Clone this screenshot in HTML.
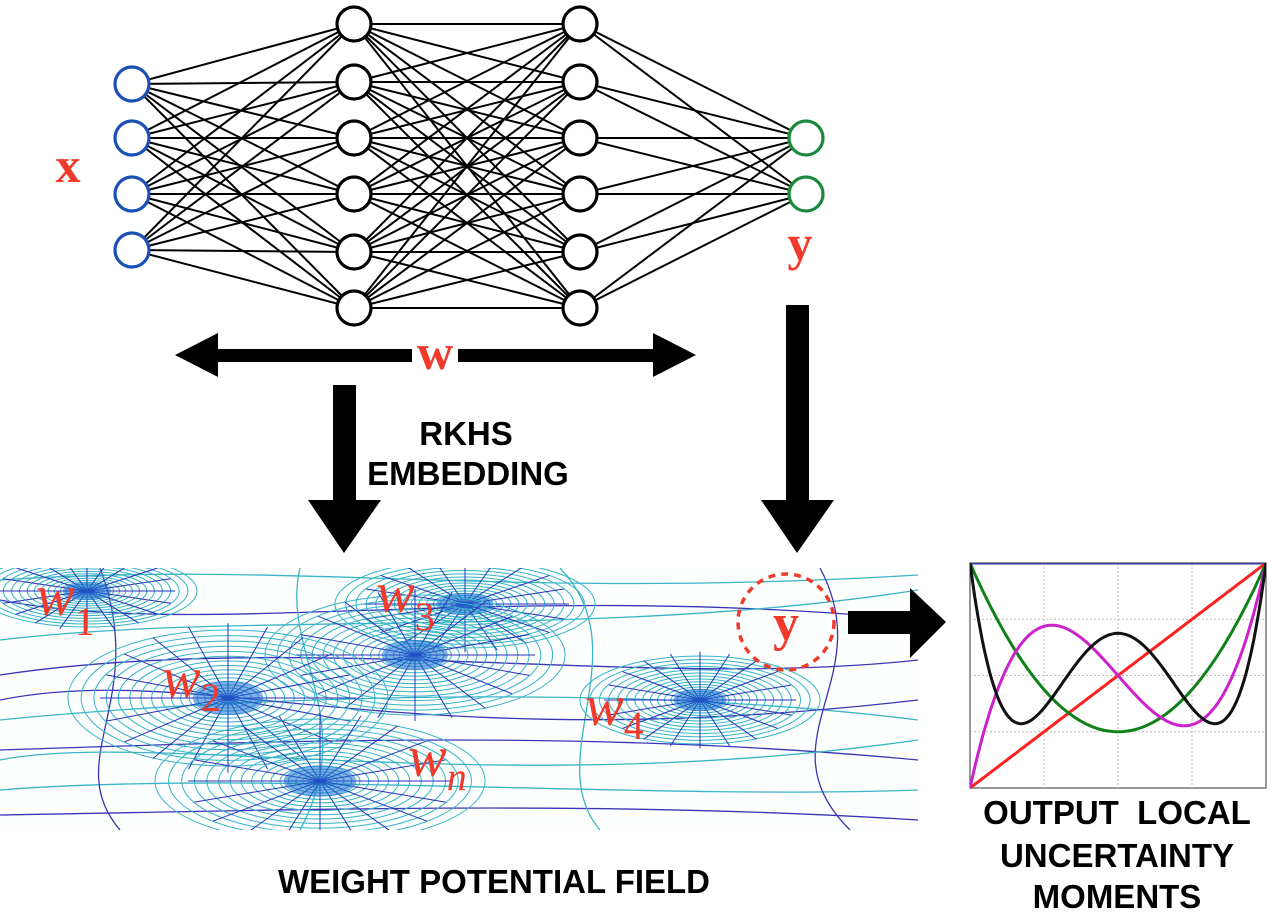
<!DOCTYPE html>
<html><head><meta charset="utf-8"><style>
body{margin:0;background:#fff;}
svg{display:block;}
.lbl{font-family:"Liberation Sans",sans-serif;font-weight:bold;font-size:33px;fill:#000;text-anchor:middle;}
.red{font-family:"Liberation Serif",serif;fill:#f03a2a;}
</style></head><body>
<svg id="root" width="1279" height="916" viewBox="0 0 1279 916">
<defs><clipPath id="fc"><rect x="0" y="568" width="918" height="262"/></clipPath>
<clipPath id="cc"><rect x="970" y="563" width="296" height="225"/></clipPath></defs>
<g id="net"></g>
<text class="red" x="68" y="182" font-size="50" font-weight="bold" text-anchor="middle">x</text>
<text class="red" x="800" y="260" font-size="50" font-weight="bold" text-anchor="middle">y</text>
<g>
<rect x="212" y="349" width="200" height="13" fill="#000"/>
<rect x="458" y="349" width="200" height="13" fill="#000"/>
<polygon points="175,355 218,333 218,377" fill="#000"/>
<polygon points="696,355 653,333 653,377" fill="#000"/>
</g>
<text class="red" x="435" y="369" font-size="50" font-weight="bold" text-anchor="middle">w</text>
<g>
<rect x="333" y="385" width="23" height="118" fill="#000"/>
<polygon points="308,500 381,500 344,553" fill="#000"/>
</g>
<g>
<rect x="786" y="305" width="23" height="198" fill="#000"/>
<polygon points="761,500 834,500 797,553" fill="#000"/>
</g>
<text class="lbl" x="466" y="445">RKHS</text>
<text class="lbl" x="468" y="485">EMBEDDING</text>
<g id="field" clip-path="url(#fc)"></g>
<g font-style="italic">
<text class="red" x="36" y="615" font-size="58">w<tspan font-style="normal" font-size="40" dy="20">1</tspan></text>
<text class="red" x="376" y="612" font-size="58">w<tspan font-style="normal" font-size="40" dy="18">3</tspan></text>
<text class="red" x="162" y="697" font-size="58">w<tspan font-style="normal" font-size="40" dy="14">2</tspan></text>
<text class="red" x="585" y="725" font-size="58">w<tspan font-style="normal" font-size="40" dy="14">4</tspan></text>
<text class="red" x="408" y="776" font-size="58">w<tspan font-size="40" dy="14">n</tspan></text>
</g>
<circle cx="786" cy="622" r="48" fill="none" stroke="#f03a2a" stroke-width="3.5" stroke-dasharray="7,6"/>
<text class="red" x="786" y="640" font-size="52" font-weight="bold" text-anchor="middle">y</text>
<g>
<rect x="848" y="611" width="65" height="23" fill="#000"/>
<polygon points="910,588 946,622 910,658" fill="#000"/>
</g>
<g id="chart"></g>
<text class="lbl" x="1117" y="824" xml:space="preserve">OUTPUT  LOCAL</text>
<text class="lbl" x="1117" y="867">UNCERTAINTY</text>
<text class="lbl" x="1117" y="908">MOMENTS</text>
<text class="lbl" x="494" y="893">WEIGHT POTENTIAL FIELD</text>
</svg>
<script>
// Legendre-like moment curves: polynomial coefficients (ascending powers) for x in [-1,1]
const seriesNames = ["m0","m1","m2","m3","m4"];
const seriesColors = ["#3a3aa8","#ff2020","#108018","#cc22cc","#111111"];
const coefM0 = [1];
const coefM1 = [0,1];
const coefM2 = [-0.5,0,1.5];
const coefM3 = [0,-1.5,0,2.5];
const coefM4 = [0.375,0,-3.75,0,4.375];
const yTicks = [-1,-0.5,0,0.5,1];
const xTicks = [-1,-0.5,0,0.5,1];
const NS="http://www.w3.org/2000/svg";
function mk(t,a,p){const e=document.createElementNS(NS,t);for(const k in a)e.setAttribute(k,a[k]);p.appendChild(e);return e;}
// network
const net=document.getElementById('net');
const layers=[{x:132,ys:[84,138,194,250],c:"#1a4fb5"},{x:354,ys:[24,82,138,194,252,308],c:"#000"},{x:580,ys:[24,82,138,194,252,308],c:"#000"},{x:806,ys:[138,194],c:"#1a8a3a"}];
for(let l=0;l<3;l++)for(const a of layers[l].ys)for(const b of layers[l+1].ys){
 const e=mk('line',{x1:layers[l].x,y1:a,x2:layers[l+1].x,y2:b,stroke:"#000","stroke-width":2},net);
 
 
}
layers.forEach((L,li)=>L.ys.forEach(y=>{
 const c=mk('circle',{cx:L.x,cy:y,r:17,fill:"#fff",stroke:L.c,"stroke-width":3.2},net);
 
 
}));
// field
const field=document.getElementById('field');
mk('rect',{x:0,y:568,width:918,height:262,fill:"#fdfefe"},field);
const centers=[[87,591,110,36],[465,604,130,44],[415,655,150,60],[228,698,160,68],[700,700,120,44],[320,781,165,62]];
const flows=[[0,600,200,640,500,580,918,620],[0,640,250,610,600,640,918,590],[0,675,300,630,650,690,918,660],[0,720,200,700,600,680,918,720],[0,750,300,740,600,730,918,760],[0,790,250,770,650,800,918,790],[0,815,300,810,600,800,918,820],[0,580,300,560,500,600,918,575],[100,568,150,700,60,760,120,830],[560,568,640,650,540,760,600,830],[820,568,880,680,760,740,850,830],[300,568,280,650,360,720,300,830],[0,700,200,660,400,760,918,700],[0,760,150,730,500,800,918,740]];
flows.forEach((f,i)=>{const p=mk('path',{d:`M${f[0]},${f[1]} C${f[2]},${f[3]} ${f[4]},${f[5]} ${f[6]},${f[7]}`,fill:"none",stroke:i%2?"#3bb5c4":"#3a35b5","stroke-width":1.3},field);
 
 });
centers.forEach(([cx,cy,rx,ry])=>{
 for(let k=1;k<=18;k++){const f=Math.pow(k/18,1.5);
  const e=mk('ellipse',{cx,cy,rx:rx*f,ry:ry*f,fill:"none",stroke:"#36b4c8","stroke-width":1},field);
  
  }
 for(let k=0;k<20;k++){const a=k/20*2*Math.PI;
  const l=mk('line',{x1:cx,y1:cy,x2:cx+Math.cos(a)*rx*0.8,y2:cy+Math.sin(a)*ry*1.1,stroke:"#2a30b8","stroke-width":1},field);
  
  }
 const d=mk('ellipse',{cx,cy,rx:rx*0.22,ry:ry*0.25,fill:"#1a70d0",opacity:0.55},field);
 
 
});
// chart
const ch=document.getElementById('chart');
const X0=970,X1=1266,Y0=788,Y1=563;
const sx=v=>X0+(v+1)/2*(X1-X0), sy=v=>Y0-(v+1)/2*(Y0-Y1);
mk('rect',{x:X0,y:Y1,width:X1-X0,height:Y0-Y1,fill:"#fff",stroke:"#777","stroke-width":1.5},ch);
xTicks.slice(1,-1).forEach(t=>{const g=mk('line',{x1:sx(t),x2:sx(t),y1:Y1,y2:Y0,stroke:"#bbb","stroke-dasharray":"2,2"},ch);
 
 });
yTicks.slice(1,-1).forEach(t=>{const g=mk('line',{x1:X0,x2:X1,y1:sy(t),y2:sy(t),stroke:"#bbb","stroke-dasharray":"2,2"},ch);
 
 });
const coefs=[coefM0,coefM1,coefM2,coefM3,coefM4];
const cg=mk('g',{"clip-path":"url(#cc)"},ch);
coefs.forEach((c,i)=>{let d="";
 for(let k=0;k<=120;k++){const x=-1+k/60;let y=0;c.forEach((a,p)=>y+=a*Math.pow(x,p));d+=(k?"L":"M")+sx(x).toFixed(1)+","+sy(y).toFixed(1);}
 const p=mk('path',{d,fill:"none",stroke:seriesColors[i],"stroke-width":3},cg);
 
 });
</script>
</body></html>
